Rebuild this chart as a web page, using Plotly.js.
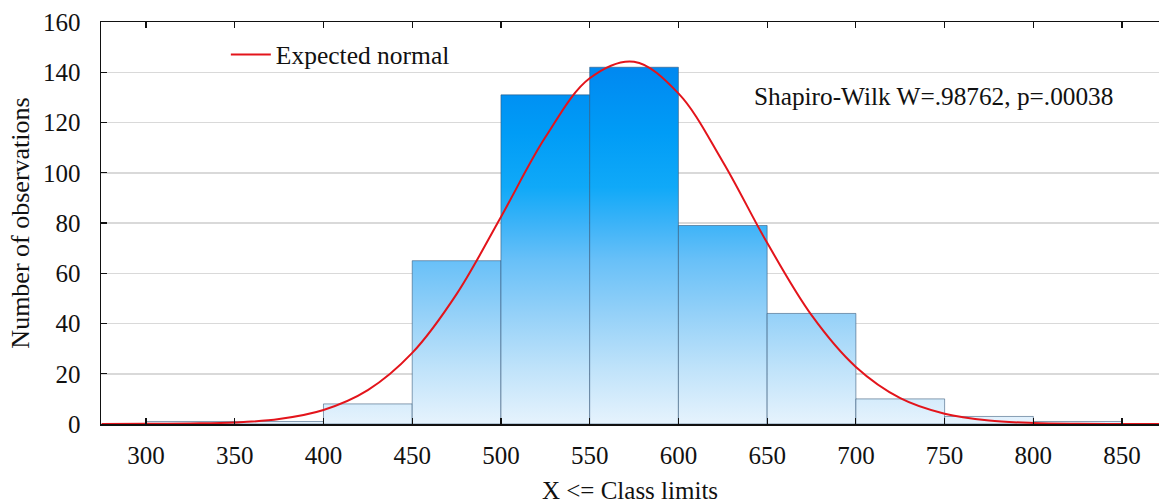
<!DOCTYPE html>
<html>
<head>
<meta charset="utf-8">
<script src="https://cdn.plot.ly/plotly-3.0.1.min.js"></script>
<style>html,body{margin:0;padding:0;background:#fff}#chart{width:1159px;height:504px}</style>
</head>
<body>
<div id="chart"></div>
<script>
// Histogram classes (lower limits), bin width and counts
const binStarts = [300, 350, 400, 450, 500, 550, 600, 650, 700, 750, 800];
const binWidth = 50;
const counts = [1, 1, 8, 65, 131, 142, 79, 44, 10, 3, 1];

// Expected normal curve
const curveX = [275, 300, 325, 350, 375, 400, 425, 450, 475, 500, 525, 550, 575, 600, 625, 650, 675, 700, 725, 750, 775, 800, 825, 850, 875];
const curveY = [0, 0.05, 0.2, 0.6, 2.0, 5.6, 13.5, 28.3, 51.7, 82.4, 114.1, 137.6, 144.2, 131.6, 104.4, 72.1, 43.3, 22.7, 10.3, 4.1, 1.4, 0.4, 0.1, 0.03, 0];

const xTicks = [300, 350, 400, 450, 500, 550, 600, 650, 700, 750, 800, 850];
const yTicks = [0, 20, 40, 60, 80, 100, 120, 140, 160];

const annotationText = 'Shapiro-Wilk W=.98762, p=.00038';
const legendText = 'Expected normal';

const FONT = 'Liberation Serif';

const gradScale = [
  [0, '#e6f3fd'],
  [0.15, '#c0e3fa'],
  [0.3, '#95d1f8'],
  [0.45, '#68c0f8'],
  [0.55, '#3cb3f8'],
  [0.65, '#10a9f8'],
  [0.8, '#009cf6'],
  [1, '#0086f0']
];

const traces = [];
binStarts.forEach((s, i) => {
  const e = s + binWidth;
  const c = counts[i];
  traces.push({
    type: 'scatter',
    mode: 'lines',
    x: [s, s, e, e, s],
    y: [0, c, c, 0, 0],
    fill: 'toself',
    fillcolor: '#7cc8f8',
    fillgradient: {type: 'vertical', colorscale: gradScale, start: 0, stop: 145},
    line: {color: 'rgba(45,80,115,0.55)', width: 1},
    hoverinfo: 'skip',
    showlegend: false
  });
});

traces.push({
  type: 'scatter',
  mode: 'lines',
  x: curveX,
  y: curveY,
  name: legendText,
  line: {color: '#e3141b', width: 2, shape: 'spline', smoothing: 1},
  showlegend: true
});

const layout = {
  width: 1159,
  height: 504,
  margin: {l: 101, r: 0, t: 22, b: 80},
  paper_bgcolor: '#ffffff',
  plot_bgcolor: '#ffffff',
  font: {family: FONT, size: 25, color: '#111111'},
  showlegend: true,
  legend: {
    x: 0.118, y: 0.918, xanchor: 'left', yanchor: 'middle',
    bgcolor: 'rgba(0,0,0,0)', borderwidth: 0,
    itemwidth: 40,
    font: {family: FONT, size: 25.5, color: '#111111'}
  },
  xaxis: {
    range: [274.64, 870.8],
    tickvals: xTicks,
    ticktext: xTicks.map(String),
    ticks: 'inside', ticklen: 6, tickwidth: 1.2, tickcolor: '#111',
    showline: true, linecolor: '#111', linewidth: 1.5, mirror: 'ticks',
    showgrid: false, zeroline: false,
    ticklabelstandoff: 8,
    tickfont: {family: FONT, size: 25, color: '#111'},
    title: {text: 'X <= Class limits', font: {family: FONT, size: 25, color: '#111'}, standoff: 14}
  },
  yaxis: {
    range: [0, 160],
    tickvals: yTicks,
    ticktext: yTicks.map(String),
    ticks: 'inside', ticklen: 6, tickwidth: 1.2, tickcolor: '#111',
    showline: true, linecolor: '#111', linewidth: 1.5, mirror: false,
    showgrid: true, gridcolor: '#d9d9d9', gridwidth: 1.5,
    zeroline: false,
    ticklabelstandoff: 14,
    tickfont: {family: FONT, size: 25, color: '#111'},
    title: {text: 'Number of observations', font: {family: FONT, size: 26, color: '#111'}, standoff: 6}
  },
  annotations: [{
    xref: 'paper', yref: 'paper',
    x: 0.6153, y: 0.816, xanchor: 'left', yanchor: 'middle',
    text: annotationText, showarrow: false,
    font: {family: FONT, size: 25.3, color: '#111'}
  }]
};

Plotly.newPlot('chart', traces, layout, {displayModeBar: false, staticPlot: true});
</script>
</body>
</html>
